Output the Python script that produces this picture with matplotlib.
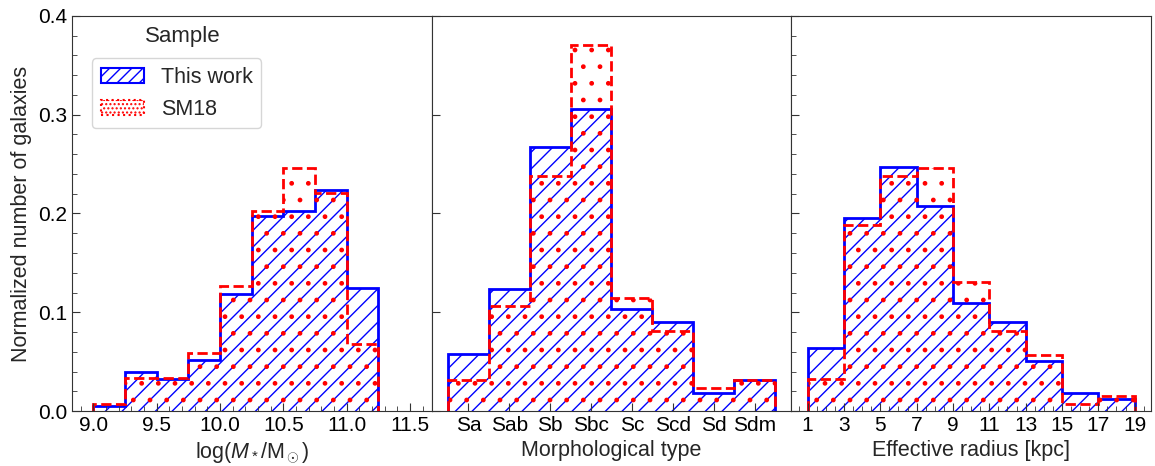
import matplotlib
matplotlib.use('Agg')  # no display
import matplotlib.pyplot as plt
import numpy as np
from matplotlib.patches import Patch
from matplotlib.ticker import MultipleLocator

# stellar mass histogram (bin edges in log M*/Msun)
mass_edges = [9.0, 9.25, 9.5, 9.75, 10.0, 10.25, 10.5, 10.75, 11.0, 11.25]
mass_this_work = [0.005, 0.039, 0.032, 0.052, 0.118, 0.197, 0.203, 0.224, 0.125]
mass_sm18 = [0.007, 0.033, 0.033, 0.059, 0.127, 0.203, 0.246, 0.221, 0.068]

# morphological type histogram
morph_types = ['Sa', 'Sab', 'Sb', 'Sbc', 'Sc', 'Scd', 'Sd', 'Sdm']
morph_this_work = [0.058, 0.1235, 0.267, 0.306, 0.103, 0.090, 0.0186, 0.0315]
morph_sm18 = [0.0315, 0.106, 0.238, 0.371, 0.114, 0.0815, 0.0237, 0.0315]

# effective radius histogram (kpc)
radius_edges = [1, 3, 5, 7, 9, 11, 13, 15, 17, 19]
radius_this_work = [0.064, 0.195, 0.247, 0.208, 0.109, 0.090, 0.051, 0.0186, 0.0125]
radius_sm18 = [0.032, 0.1885, 0.238, 0.246, 0.131, 0.0815, 0.0565, 0.007, 0.015]

TEXT = '#262626'
LABEL_SIZE = 15.5
TICK_SIZE = 15
plt.rcParams['font.family'] = ['Liberation Sans', 'DejaVu Sans']
plt.rcParams['mathtext.fontset'] = 'custom'
plt.rcParams['mathtext.rm'] = 'Liberation Sans'
plt.rcParams['mathtext.it'] = 'Liberation Sans:italic'
plt.rcParams['hatch.linewidth'] = 1.0


def draw_hist(ax, edges, work, sm18):
    ax.stairs(work, edges, fill=True, facecolor='none', edgecolor='blue',
              hatch='//', linewidth=2)
    ax.stairs(sm18, edges, fill=True, facecolor='none', edgecolor='red',
              hatch='.', linewidth=2, linestyle='--')


fig, axes = plt.subplots(1, 3, figsize=(11.55, 4.66), dpi=100, sharey=True)
fig.subplots_adjust(left=0.0623, right=0.9965, top=0.9657, bottom=0.118, wspace=0)

# left: stellar mass
ax = axes[0]
draw_hist(ax, mass_edges, mass_this_work, mass_sm18)
ax.set_xlim(8.83, 11.67)
ax.xaxis.set_major_locator(MultipleLocator(0.5))
ax.xaxis.set_minor_locator(MultipleLocator(0.1))
ax.set_xlabel(r'log($M_*$/M$_\odot$)', fontsize=LABEL_SIZE, color=TEXT)
ax.set_ylabel('Normalized number of galaxies', fontsize=LABEL_SIZE, color=TEXT)

# middle: morphology
ax = axes[1]
morph_edges = np.arange(len(morph_types) + 1) - 0.5
draw_hist(ax, morph_edges, morph_this_work, morph_sm18)
ax.set_xticks(range(len(morph_types)))
ax.set_xticklabels(morph_types)
ax.set_xlabel('Morphological type', fontsize=LABEL_SIZE, color=TEXT)

# right: effective radius
ax = axes[2]
draw_hist(ax, radius_edges, radius_this_work, radius_sm18)
ax.xaxis.set_minor_locator(MultipleLocator(0.5))
ax.set_xticks(radius_edges)
ax.set_xlabel('Effective radius [kpc]', fontsize=LABEL_SIZE, color=TEXT)

axes[0].set_ylim(0, 0.4)
axes[0].yaxis.set_major_locator(MultipleLocator(0.1))
axes[0].yaxis.set_minor_locator(MultipleLocator(0.02))

for ax in axes:
    ax.tick_params(which='both', direction='in', top=False, right=False,
                   labelsize=TICK_SIZE, colors='0.2', labelcolor='black')
    ax.tick_params(which='major', length=5.5)
    ax.tick_params(which='minor', length=3.5)
    for spine in ax.spines.values():
        spine.set_color('0.2')
axes[1].tick_params(which='minor', length=0)

# legend with its title sitting above the frame
handles = [
    Patch(facecolor='none', edgecolor='blue', hatch='///', linewidth=1.5, label='This work'),
    Patch(facecolor='none', edgecolor='red', hatch='....', linewidth=1.5, linestyle=':', label='SM18'),
]
leg = axes[0].legend(handles=handles, loc='upper left', bbox_to_anchor=(0.056, 0.893),
                     borderaxespad=0, fontsize=LABEL_SIZE, labelcolor=TEXT)
axes[0].text(0.307, 0.947, 'Sample', transform=axes[0].transAxes, ha='center', va='center',
             fontsize=16, color=TEXT)

plt.savefig('out.png', dpi=100)
plt.close()
